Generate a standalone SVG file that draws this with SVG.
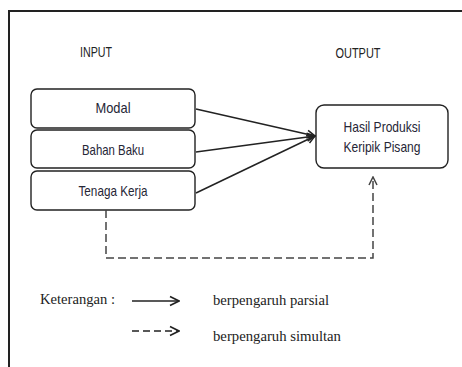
<svg xmlns="http://www.w3.org/2000/svg" width="462" height="367" viewBox="0 0 462 367">
<defs>
<style>
.frame{fill:none;stroke:#222;stroke-width:2}
.box{fill:#fff;stroke:#222;stroke-width:1.4}
.lbl{font-family:"Liberation Sans",Arial,sans-serif;font-size:15px;fill:#262636;text-anchor:middle}
.hdr{font-family:"Liberation Sans",Arial,sans-serif;font-size:15px;fill:#222;text-anchor:middle}
.leg{font-family:"Liberation Serif","Times New Roman",serif;font-size:14.5px;fill:#222}
.ln{fill:none;stroke:#222;stroke-width:1.5}
.dash{fill:none;stroke:#444;stroke-width:1.5;stroke-dasharray:8 4}
</style>
<marker id="ah" viewBox="0 0 10 10" refX="9" refY="5" markerWidth="10" markerHeight="10" markerUnits="userSpaceOnUse" orient="auto">
<path d="M1,1 L9,5 L1,9" fill="none" stroke="#222" stroke-width="1.5"/>
</marker>
<marker id="ahd" viewBox="0 0 10 10" refX="9" refY="5" markerWidth="10" markerHeight="10" markerUnits="userSpaceOnUse" orient="auto">
<path d="M1,1 L9,5 L1,9" fill="none" stroke="#444" stroke-width="1.5"/>
</marker>
<marker id="ahl" viewBox="0 0 12 12" refX="11" refY="6" markerWidth="12" markerHeight="12" markerUnits="userSpaceOnUse" orient="auto">
<path d="M2,1.5 L11,6 L2,10.5" fill="none" stroke="#222" stroke-width="1.6"/>
</marker>
</defs>
<rect width="462" height="367" fill="#fff"/>
<path class="frame" d="M9,367 V11 H462"/>
<text class="hdr" x="96" y="57" textLength="32" lengthAdjust="spacingAndGlyphs">INPUT</text>
<text class="hdr" x="358" y="58" textLength="45" lengthAdjust="spacingAndGlyphs">OUTPUT</text>
<g id="modal">
<rect class="box" x="31" y="89" width="164" height="39" rx="6"/>
<text class="lbl" x="113" y="113" textLength="35" lengthAdjust="spacingAndGlyphs">Modal</text>
</g>
<g id="bahan-baku">
<rect class="box" x="31" y="130" width="164" height="38" rx="6"/>
<text class="lbl" x="113" y="155" textLength="62" lengthAdjust="spacingAndGlyphs">Bahan Baku</text>
</g>
<g id="tenaga-kerja">
<rect class="box" x="31" y="171" width="164" height="39" rx="6"/>
<text class="lbl" x="113" y="196" textLength="69" lengthAdjust="spacingAndGlyphs">Tenaga Kerja</text>
</g>
<g id="hasil">
<rect class="box" x="316" y="105" width="132" height="63" rx="8"/>
<text class="lbl" x="382" y="132" textLength="77" lengthAdjust="spacingAndGlyphs">Hasil Produksi</text>
<text class="lbl" x="382" y="152" textLength="77" lengthAdjust="spacingAndGlyphs">Keripik Pisang</text>
</g>
<g id="connectors">
<line class="ln" x1="196" y1="109" x2="315" y2="136" marker-end="url(#ah)"/>
<line class="ln" x1="196" y1="152" x2="315" y2="136" marker-end="url(#ah)"/>
<line class="ln" x1="196" y1="193" x2="315" y2="136" marker-end="url(#ah)"/>
<path class="dash" d="M106,210 V258 H373 V177" marker-end="url(#ahd)"/>
</g>
<g id="legend">
<text class="leg" x="40" y="304" textLength="75" lengthAdjust="spacingAndGlyphs">Keterangan :</text>
<line class="ln" x1="132" y1="301" x2="179" y2="301" marker-end="url(#ahl)"/>
<text class="leg" x="213" y="305" textLength="116" lengthAdjust="spacingAndGlyphs">berpengaruh parsial</text>
<line class="ln" x1="132" y1="331" x2="179" y2="331" stroke-dasharray="7 4" marker-end="url(#ahl)"/>
<text class="leg" x="213" y="341" textLength="128" lengthAdjust="spacingAndGlyphs">berpengaruh simultan</text>
</g>
</svg>
